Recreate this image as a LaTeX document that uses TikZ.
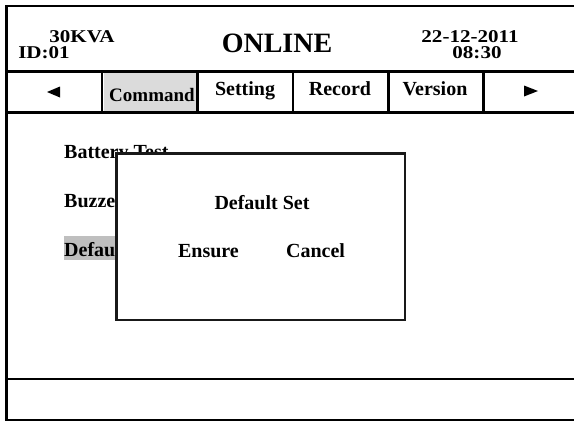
\documentclass[tikz,border=0pt]{standalone}
\usepackage{graphicx}
\usepackage{fontspec}
\setmainfont{Liberation Serif}
\begin{document}
\begin{tikzpicture}[x=1pt,y=-1pt,
  rule/.style={line width=2.4pt},
  txt/.style={font=\bfseries\fontsize{20}{20}\selectfont, inner sep=0pt, anchor=base},
  hdr/.style={font=\bfseries\fontsize{18}{18}\selectfont, inner sep=0pt, anchor=base},
  bigtxt/.style={font=\bfseries\fontsize{28}{28}\selectfont, inner sep=0pt, anchor=base},
  dlg/.style={draw=black!90, line width=2.2pt, fill=white},
]
\newcommand{\wide}[1]{\scalebox{1.17}[1]{#1}}
\useasboundingbox (0,0) rectangle (574,421);
\clip (0,0) rectangle (574,421);

% selection highlights
\fill[black!14] (103.5,73) rectangle (196.5,111);
\fill[black!25] (64,236) rectangle (130,260);

% panel frame and dividing rules
\draw[rule] (6.5,6) rectangle (580,420);
\draw[rule] (6.5,71.5) -- (580,71.5);
\draw[rule] (6.5,112.5) -- (580,112.5);
\draw[rule] (6.5,379) -- (580,379);
\foreach \xx in {102,197.5,293,388.5,483.5}
  \draw[rule] (\xx,71.5) -- (\xx,112.5);

% header
\node[hdr] (kva) at (82,42) {\wide{30KVA}};
\node[hdr] (id) at (44,58.5) {\wide{ID:01}};
\node[bigtxt] (mode) at (277,52) {ONLINE};
\node[hdr] (date) at (470,42) {\wide{22-12-2011}};
\node[hdr] (time) at (477,58.5) {\wide{08:30}};

% tab bar
\fill (47,92) -- (60,86.5) -- (60,97.5) -- cycle;
\fill (538,91) -- (524,85.5) -- (524,96.5) -- cycle;
\node[txt, font=\bfseries\fontsize{19}{19}\selectfont] (tcmd) at (152,101) {Command};
\node[txt] (tset) at (245,95) {Setting};
\node[txt] (trec) at (340,95) {Record};
\node[txt] (tver) at (435,95) {Version};

% menu entries
\node[txt, anchor=base west] (m1) at (64,158) {Battery Test};
\node[txt, anchor=base west] (m2) at (64,207.5) {Buzze};
\node[txt, anchor=base west] (m3) at (64,256.5) {Defau};

% confirmation dialog
\draw[dlg] (116.5,153.5) rectangle (405,320);
\node[txt] (dtitle) at (262,209) {Default Set};
\node[txt] (dok) at (208.5,257.5) {Ensure};
\node[txt] (dcancel) at (315.5,257.5) {Cancel};
\end{tikzpicture}
\end{document}
